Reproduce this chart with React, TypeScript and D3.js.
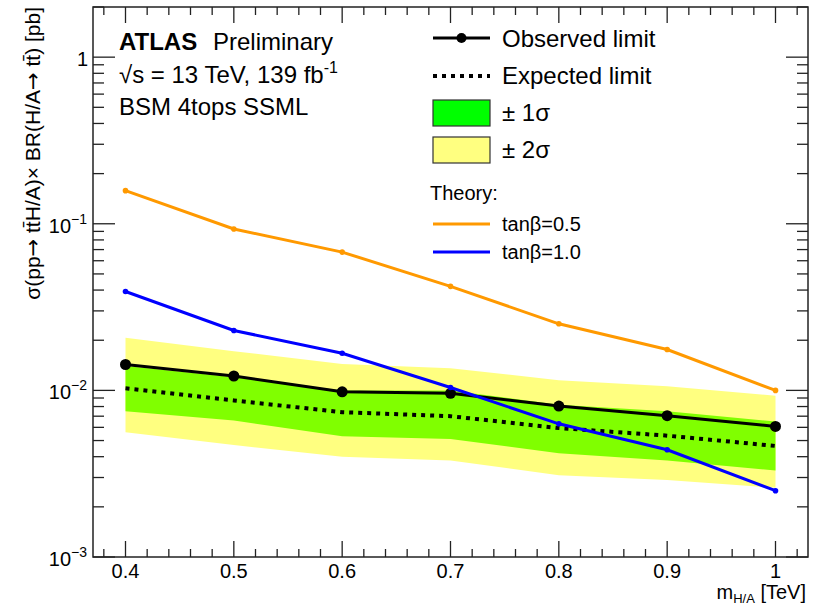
import React from "react";
import * as d3 from "d3";

// signal masses [TeV]
const masses = [0.4, 0.5, 0.6, 0.7, 0.8, 0.9, 1.0];
// 95% CL limits [pb]
const observed = [0.0143, 0.0122, 0.0098, 0.0096, 0.00805, 0.00705, 0.00608];
const expected = [0.0103, 0.0087, 0.0074, 0.0070, 0.00594, 0.00535, 0.00464];
const band1Up = [0.0140, 0.0120, 0.0100, 0.0100, 0.0082, 0.0075, 0.0065];
const band1Down = [0.0075, 0.0066, 0.0053, 0.0051, 0.0042, 0.0038, 0.0033];
const band2Up = [0.0207, 0.0172, 0.0144, 0.0136, 0.0115, 0.0106, 0.0093];
const band2Down = [0.0056, 0.0047, 0.0040, 0.0038, 0.0031, 0.0029, 0.0026];
// theory cross sections
const theory05 = [0.158, 0.093, 0.0676, 0.0421, 0.0251, 0.0176, 0.0100];
const theory10 = [0.0392, 0.0229, 0.0167, 0.0104, 0.0063, 0.0044, 0.0025];

const xMajor = [0.4, 0.5, 0.6, 0.7, 0.8, 0.9, 1.0];
const xMajorLabels = ["0.4", "0.5", "0.6", "0.7", "0.8", "0.9", "1"];
const yMajor = [1e-3, 1e-2, 1e-1, 1];
const yMajorExp = ["\u22123", "\u22122", "\u22121", ""];

const W = 820;
const H = 606;
const left = 93, right = 808, top = 7, bottom = 557;
const font = "'Liberation Sans', Arial, Helvetica, sans-serif";

export default function App() {
  const x = d3.scaleLinear().domain([0.37, 1.03]).range([left, right]);
  const y = d3.scaleLog().domain([1e-3, 2]).range([bottom, top]);

  const band = (up: number[], down: number[]) =>
    d3.area<number>()
      .x((_, i) => x(masses[i]))
      .y0((_, i) => y(down[i]))
      .y1((_, i) => y(up[i]))(masses) as string;

  const line = (vals: number[]) =>
    d3.line<number>().x((d) => x(d)).y((_, i) => y(vals[i]))(masses) as string;

  // minor ticks
  const xMinor = d3.range(0.38, 1.03, 0.02).filter(
    (v) => !xMajor.some((m) => Math.abs(m - v) < 1e-6)
  );
  const yMinor: number[] = [];
  [-3, -2, -1, 0].forEach((e) => {
    for (let k = 2; k <= 9; k++) {
      const v = k * Math.pow(10, e);
      if (v <= 2) yMinor.push(v);
    }
  });

  const arrow = <tspan fontFamily="'DejaVu Sans', sans-serif">→</tspan>;
  const tbar = (
    <>
      t<tspan>t&#x0304;</tspan>
    </>
  );

  return (
    <svg
      width={W}
      height={H}
      style={{ position: "absolute", left: 0, top: 0, background: "#fff" }}
      fontFamily={font}
    >
      <rect width={W} height={H} fill="#fff" />

      {/* bands */}
      <path d={band(band2Up, band2Down)} fill="#ffff80" />
      <path d={band(band1Up, band1Down)} fill="#80ff00" />

      {/* expected */}
      <path d={line(expected)} fill="none" stroke="#000" strokeWidth={4} strokeDasharray="4 5" />

      {/* observed */}
      <path d={line(observed)} fill="none" stroke="#000" strokeWidth={3} />
      {masses.map((m, i) => (
        <circle key={"o" + i} cx={x(m)} cy={y(observed[i])} r={5.5} fill="#000" />
      ))}

      {/* theory */}
      <path d={line(theory05)} fill="none" stroke="#ff9900" strokeWidth={3} />
      {masses.map((m, i) => (
        <circle key={"a" + i} cx={x(m)} cy={y(theory05[i])} r={2.8} fill="#ff9900" />
      ))}
      <path d={line(theory10)} fill="none" stroke="#0000ff" strokeWidth={3} />
      {masses.map((m, i) => (
        <circle key={"b" + i} cx={x(m)} cy={y(theory10[i])} r={2.8} fill="#0000ff" />
      ))}

      {/* frame */}
      <rect x={left} y={top} width={right - left} height={bottom - top} fill="none" stroke="#222" strokeWidth={1.5} />

      {/* x ticks */}
      {xMajor.map((v, i) => (
        <g key={"xm" + i}>
          <line x1={x(v)} x2={x(v)} y1={bottom} y2={bottom - 16} stroke="#222" strokeWidth={1.3} />
          <line x1={x(v)} x2={x(v)} y1={top} y2={top + 16} stroke="#222" strokeWidth={1.3} />
          <text x={x(v)} y={578} fontSize={20} textAnchor="middle">{xMajorLabels[i]}</text>
        </g>
      ))}
      {xMinor.map((v, i) => (
        <g key={"xn" + i}>
          <line x1={x(v)} x2={x(v)} y1={bottom} y2={bottom - 8} stroke="#222" strokeWidth={1.3} />
          <line x1={x(v)} x2={x(v)} y1={top} y2={top + 8} stroke="#222" strokeWidth={1.3} />
        </g>
      ))}

      {/* y ticks */}
      {yMajor.map((v, i) => (
        <g key={"ym" + i}>
          <line x1={left} x2={left + 22} y1={y(v)} y2={y(v)} stroke="#222" strokeWidth={1.3} />
          <line x1={right} x2={right - 22} y1={y(v)} y2={y(v)} stroke="#222" strokeWidth={1.3} />
          {v === 1 ? (
            <text x={88} y={y(v) + 9} fontSize={20} textAnchor="end">1</text>
          ) : (
            <text x={87} y={y(v) + 9} fontSize={20} textAnchor="end">
              10
              <tspan fontSize={14} dy={-9}>{yMajorExp[i]}</tspan>
            </text>
          )}
        </g>
      ))}
      {yMinor.map((v, i) => (
        <g key={"yn" + i}>
          <line x1={left} x2={left + 11} y1={y(v)} y2={y(v)} stroke="#222" strokeWidth={1.3} />
          <line x1={right} x2={right - 11} y1={y(v)} y2={y(v)} stroke="#222" strokeWidth={1.3} />
        </g>
      ))}

      {/* axis titles */}
      <text x={806} y={599} fontSize={20} textAnchor="end">
        m<tspan fontSize={13} dy={4}>H/A</tspan>
        <tspan dy={-4}> [TeV]</tspan>
      </text>
      <text transform="translate(40,7) rotate(-90)" fontSize={21} textAnchor="end">
        σ(pp{arrow} {tbar}H/A)× BR(H/A{arrow} {tbar}) [pb]
      </text>

      {/* labels */}
      <text x={119} y={50} fontSize={24} fontWeight="bold">ATLAS</text>
      <text x={213} y={50} fontSize={24}>Preliminary</text>
      <text x={119} y={83} fontSize={24}>
        √s = 13 TeV, 139 fb<tspan fontSize={16} dy={-10}>-1</tspan>
      </text>
      <text x={119} y={115} fontSize={24}>BSM 4tops SSML</text>

      {/* legend */}
      <line x1={433} x2={490} y1={38} y2={38} stroke="#000" strokeWidth={3} />
      <circle cx={461.5} cy={38} r={5} fill="#000" />
      <text x={502} y={47} fontSize={24}>Observed limit</text>

      <line x1={433} x2={490} y1={76} y2={76} stroke="#000" strokeWidth={4} strokeDasharray="4 5" />
      <text x={502} y={84} fontSize={24}>Expected limit</text>

      <rect x={433} y={100} width={57} height={26} fill="#00ff00" stroke="#333" strokeWidth={1.2} />
      <text x={502} y={121} fontSize={24}>± 1σ</text>
      <rect x={433} y={137} width={57} height={26} fill="#ffff80" stroke="#333" strokeWidth={1.2} />
      <text x={502} y={158} fontSize={24}>± 2σ</text>

      <text x={430} y={200} fontSize={20}>Theory:</text>
      <line x1={433} x2={490} y1={224} y2={224} stroke="#ff9900" strokeWidth={3} />
      <text x={502} y={231} fontSize={20}>tanβ=0.5</text>
      <line x1={433} x2={490} y1={252} y2={252} stroke="#0000ff" strokeWidth={3} />
      <text x={502} y={259} fontSize={20}>tanβ=1.0</text>
    </svg>
  );
}
